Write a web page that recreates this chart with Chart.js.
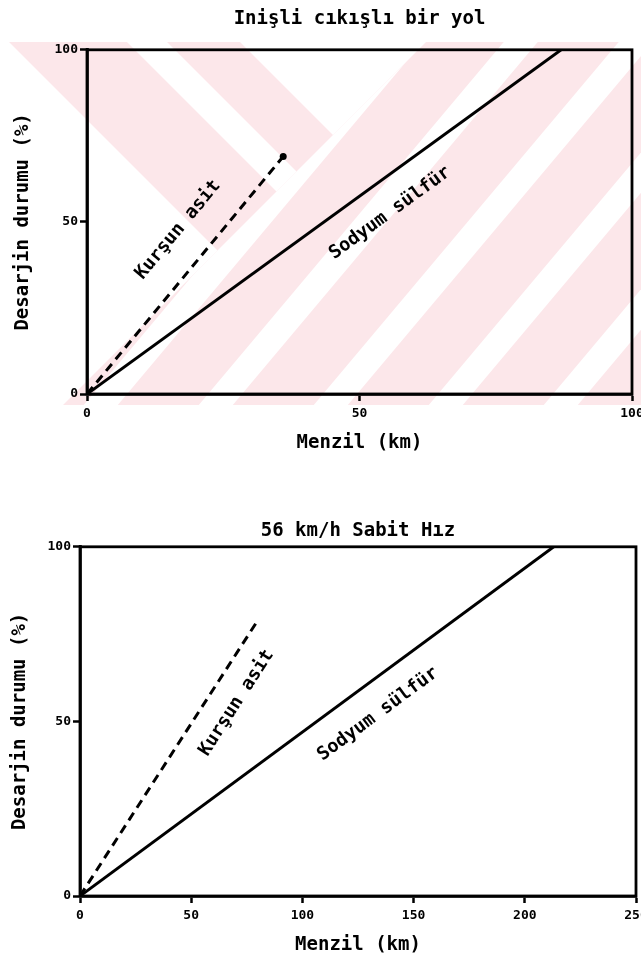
<!DOCTYPE html>
<html>
<head>
<meta charset="utf-8">
<script src="https://cdn.jsdelivr.net/npm/chart.js@4/dist/chart.umd.min.js"></script>
<style>
  html, body { margin: 0; padding: 0; background: #fff; overflow: hidden; }
  canvas { position: absolute; left: 0; display: block; }
  #hilly { top: 0; }
  #steady { top: 460px; }
</style>
</head>
<body>
<canvas id="hilly" width="641" height="454"></canvas>
<canvas id="steady" width="641" height="496"></canvas>
<script>
// values
const hillyLeadKm = [0, 36];
const hillyLeadPct = [0, 69];
const hillySodiumKm = [0, 87];
const hillySodiumPct = [0, 100];

const steadyLeadKm = [0, 80];
const steadyLeadPct = [0, 79];
const steadySodiumKm = [0, 213];
const steadySodiumPct = [0, 100];

const pctTicks = [0, 50, 100];
const hillyKmTicks = [0, 50, 100];
const steadyKmTicks = [0, 50, 100, 150, 200, 250];

const MONO = "'DejaVu Sans Mono', 'Liberation Mono', monospace";
const PINK = 'rgb(252,231,234)';

const toPoints = (xs, ys) => xs.map((x, i) => ({ x: x, y: ys[i] }));

// faint striped watermark behind the first plot
const watermark = {
  id: 'watermark',
  beforeDraw(chart) {
    const ctx = chart.ctx;
    const top = 42, bottom = 405, w = chart.width;
    ctx.save();
    ctx.beginPath();
    ctx.rect(0, top, w, bottom - top);
    ctx.clip();
    ctx.fillStyle = PINK;
    ctx.fillRect(0, top, w, bottom - top);
    ctx.fillStyle = '#fff';

    // upper-left half: "\" bands
    ctx.save();
    ctx.beginPath();
    ctx.moveTo(0, 0); ctx.lineTo(468, 0); ctx.lineTo(0, 468); ctx.closePath();
    ctx.clip();
    [[-1000, -33], [85, 125], [198, 1000]].forEach(([c1, c2]) => {
      ctx.beginPath();
      ctx.moveTo(c1, 0); ctx.lineTo(c2, 0);
      ctx.lineTo(c2 + 600, 600); ctx.lineTo(c1 + 600, 600);
      ctx.closePath();
      ctx.fill();
    });
    ctx.restore();

    // lower-right half: "/" bands
    ctx.save();
    ctx.beginPath();
    ctx.moveTo(468, 0); ctx.lineTo(2000, 0); ctx.lineTo(2000, 2000);
    ctx.lineTo(0, 2000); ctx.lineTo(0, 468); ctx.closePath();
    ctx.clip();
    const k = 0.84;
    for (let d = 556 - 115 * 3; d < 1400; d += 115) {
      ctx.beginPath();
      ctx.moveTo(d - 17, 0); ctx.lineTo(d + 17, 0);
      ctx.lineTo(d + 17 - k * 600, 600); ctx.lineTo(d - 17 - k * 600, 600);
      ctx.closePath();
      ctx.fill();
    }
    ctx.restore();
    ctx.restore();
  }
};

// box round the plot area
const frame = {
  id: 'frame',
  beforeDatasetsDraw(chart) {
    const { ctx, chartArea: a } = chart;
    ctx.save();
    ctx.strokeStyle = '#000';
    ctx.lineWidth = 2.8;
    ctx.strokeRect(a.left, a.top, a.right - a.left, a.bottom - a.top);
    ctx.restore();
  }
};

// text written along a line
function lineLabels(items) {
  return {
    id: 'lineLabels',
    afterDatasetsDraw(chart) {
      const { ctx, scales: { x, y } } = chart;
      items.forEach(it => {
        const data = chart.data.datasets[it.dataset].data;
        const a = data[0], b = data[data.length - 1];
        const ang = Math.atan2(
          y.getPixelForValue(b.y) - y.getPixelForValue(a.y),
          x.getPixelForValue(b.x) - x.getPixelForValue(a.x));
        ctx.save();
        ctx.translate(x.getPixelForValue(it.x), y.getPixelForValue(it.y));
        ctx.rotate(ang);
        ctx.font = 'bold 18.5px ' + MONO;
        ctx.fillStyle = '#000';
        ctx.textAlign = 'center';
        ctx.textBaseline = 'middle';
        ctx.fillText(it.text, 0, 0);
        ctx.restore();
      });
    }
  };
}

function makeChart(id, cfg) {
  const tickFont = { family: MONO, size: 13, weight: 'bold' };
  const titleFont = { family: MONO, size: 19, weight: 'bold', lineHeight: 1.2 };
  return new Chart(document.getElementById(id), {
    type: 'scatter',
    data: {
      datasets: [
        {
          label: 'Kurşun asit',
          data: cfg.lead,
          showLine: true,
          borderColor: '#000',
          borderWidth: 3,
          borderDash: [9, 6],
          pointRadius: cfg.leadDot ? [0, 3.5] : 0,
          pointBackgroundColor: '#000',
          pointBorderWidth: 0
        },
        {
          label: 'Sodyum sülfür',
          data: cfg.sodium,
          showLine: true,
          borderColor: '#000',
          borderWidth: 3,
          pointRadius: 0
        }
      ]
    },
    options: {
      responsive: false,
      animation: false,
      devicePixelRatio: 1,
      layout: { padding: { left: 0, right: cfg.padRight, top: 0, bottom: 0 } },
      plugins: {
        legend: { display: false },
        tooltip: { enabled: false },
        title: {
          display: true,
          text: cfg.title,
          color: '#000',
          font: titleFont,
          fullSize: false,
          padding: cfg.titlePad
        }
      },
      scales: {
        x: {
          type: 'linear',
          min: 0,
          max: cfg.kmTicks[cfg.kmTicks.length - 1],
          afterBuildTicks: s => { s.ticks = cfg.kmTicks.map(v => ({ value: v })); },
          afterFit: s => { s.height = 60; s.paddingRight = 0; s.paddingLeft = 0; },
          ticks: { color: '#000', font: tickFont, padding: 5, maxRotation: 0, autoSkip: false },
          grid: { drawOnChartArea: false, drawTicks: true, tickLength: 7, tickWidth: 2.5, color: '#000' },
          border: { display: true, color: '#000', width: 2.8 },
          title: { display: true, text: 'Menzil (km)', color: '#000', font: titleFont, padding: 0 }
        },
        y: {
          type: 'linear',
          min: 0,
          max: 100,
          afterBuildTicks: s => { s.ticks = pctTicks.map(v => ({ value: v })); },
          afterFit: s => { s.width = cfg.yWidth; },
          ticks: { color: '#000', font: tickFont, padding: 2 },
          grid: { drawOnChartArea: false, drawTicks: true, tickLength: 7, tickWidth: 2.5, color: '#000' },
          border: { display: true, color: '#000', width: 2.8 },
          title: { display: true, text: 'Desarjin durumu (%)', color: '#000', font: titleFont, padding: { top: cfg.yTitlePad, bottom: 0 } }
        }
      }
    },
    plugins: (cfg.extra || []).concat([frame, lineLabels(cfg.labels)])
  });
}

makeChart('hilly', {
  title: 'Inişli cıkışlı bir yol',
  titlePad: { top: 8, bottom: 19 },
  lead: toPoints(hillyLeadKm, hillyLeadPct),
  sodium: toPoints(hillySodiumKm, hillySodiumPct),
  leadDot: true,
  kmTicks: hillyKmTicks,
  yWidth: 87,
  yTitlePad: 12,
  padRight: 9,
  extra: [watermark],
  labels: [
    { text: 'Kurşun asit', dataset: 0, x: 16.7, y: 47.7 },
    { text: 'Sodyum sülfür', dataset: 1, x: 55.6, y: 52.6 }
  ]
});

makeChart('steady', {
  title: '56 km/h Sabit Hız',
  titlePad: { top: 60, bottom: 4 },
  lead: toPoints(steadyLeadKm, steadyLeadPct),
  sodium: toPoints(steadySodiumKm, steadySodiumPct),
  leadDot: false,
  kmTicks: steadyKmTicks,
  yWidth: 80,
  yTitlePad: 9,
  padRight: 5,
  labels: [
    { text: 'Kurşun asit', dataset: 0, x: 70.4, y: 55.3 },
    { text: 'Sodyum sülfür', dataset: 1, x: 134, y: 52.1 }
  ]
});
</script>
</body>
</html>
